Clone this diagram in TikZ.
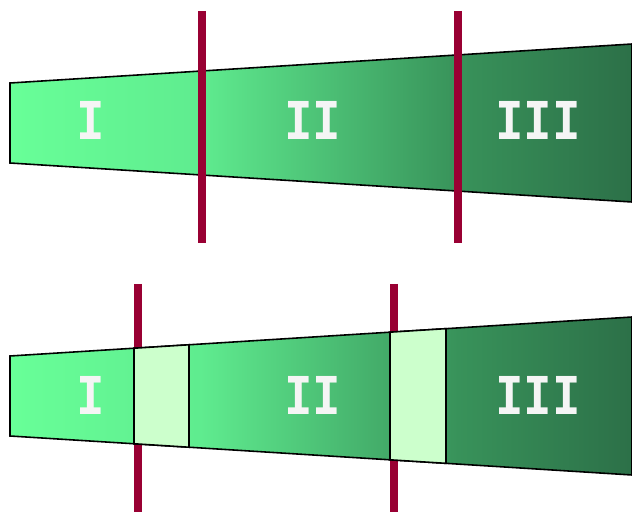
\documentclass[tikz,border=0pt]{standalone}
\usepackage{fontspec}
\newfontfamily\zonefont{DejaVu Sans Mono}
\usetikzlibrary{calc}
\definecolor{gapfill}{RGB}{204,255,204}
\definecolor{cutred}{RGB}{153,0,51}
\definecolor{labelgray}{RGB}{245,245,245}
% light green that stays light over the first zone, then darkens
\pgfdeclarehorizontalshading{zoneshade}{100bp}{%
  rgb(0bp)=(0.408,1,0.596); rgb(25bp)=(0.408,1,0.596);
  rgb(40.27bp)=(0.373,0.925,0.561); rgb(61bp)=(0.22,0.573,0.353);
  rgb(75bp)=(0.173,0.439,0.282); rgb(100bp)=(0.173,0.439,0.282)}
\tikzset{
  zone/.style={draw=black, line width=0.45pt, shading=zoneshade},
  gapbox/.style={draw=black, line width=0.45pt, fill=gapfill},
  cutline/.style={draw=cutred, line width=0.08cm},
  zonelabel/.style={text=labelgray, inner sep=0pt, yscale=1.1,
    font=\zonefont\bfseries\fontsize{13.5pt}{13.5pt}\selectfont},
}

\begin{document}
\begin{tikzpicture}[x=0.01cm, y=-0.01cm]
\useasboundingbox (0,0) rectangle (632,512);

% upper channel
\coordinate (upNW) at (10,83);
\coordinate (upNE) at (632,44);
\coordinate (upSE) at (632,202);
\coordinate (upSW) at (10,163);

\path[zone] (upNW) -- (upNE) -- (upSE) -- (upSW) -- cycle;

\coordinate (cutA1) at (202,11);
\coordinate (cutA2) at (202,243);
\coordinate (cutB1) at (458,11);
\coordinate (cutB2) at (458,243);
\draw[cutline] (cutA1) -- (cutA2);
\draw[cutline] (cutB1) -- (cutB2);

\node[zonelabel] (upI) at (91,120) {I};
\node[zonelabel] (upII) at (313,120) {II};
\node[zonelabel] (upIII) at (538,120) {III};

% lower channel, cut lines behind
\coordinate (lowNW) at (10,356);
\coordinate (lowNE) at (632,317);
\coordinate (lowSE) at (632,475);
\coordinate (lowSW) at (10,436);

\coordinate (cutC1) at (138,284);
\coordinate (cutC2) at (138,512);
\coordinate (cutD1) at (394,284);
\coordinate (cutD2) at (394,512);
\draw[cutline] (cutC1) -- (cutC2);
\draw[cutline] (cutD1) -- (cutD2);

\path[zone] (lowNW) -- (lowNE) -- (lowSE) -- (lowSW) -- cycle;

% gaps between the zones
\path[gapbox]
  ($(lowNW)!124/622!(lowNE)$) -- ($(lowNW)!179/622!(lowNE)$)
  -- ($(lowSW)!179/622!(lowSE)$) -- ($(lowSW)!124/622!(lowSE)$) -- cycle;
\path[gapbox]
  ($(lowNW)!380/622!(lowNE)$) -- ($(lowNW)!436/622!(lowNE)$)
  -- ($(lowSW)!436/622!(lowSE)$) -- ($(lowSW)!380/622!(lowSE)$) -- cycle;

\node[zonelabel] (lowI) at (91,395) {I};
\node[zonelabel] (lowII) at (313,395) {II};
\node[zonelabel] (lowIII) at (538,395) {III};

\end{tikzpicture}
\end{document}
